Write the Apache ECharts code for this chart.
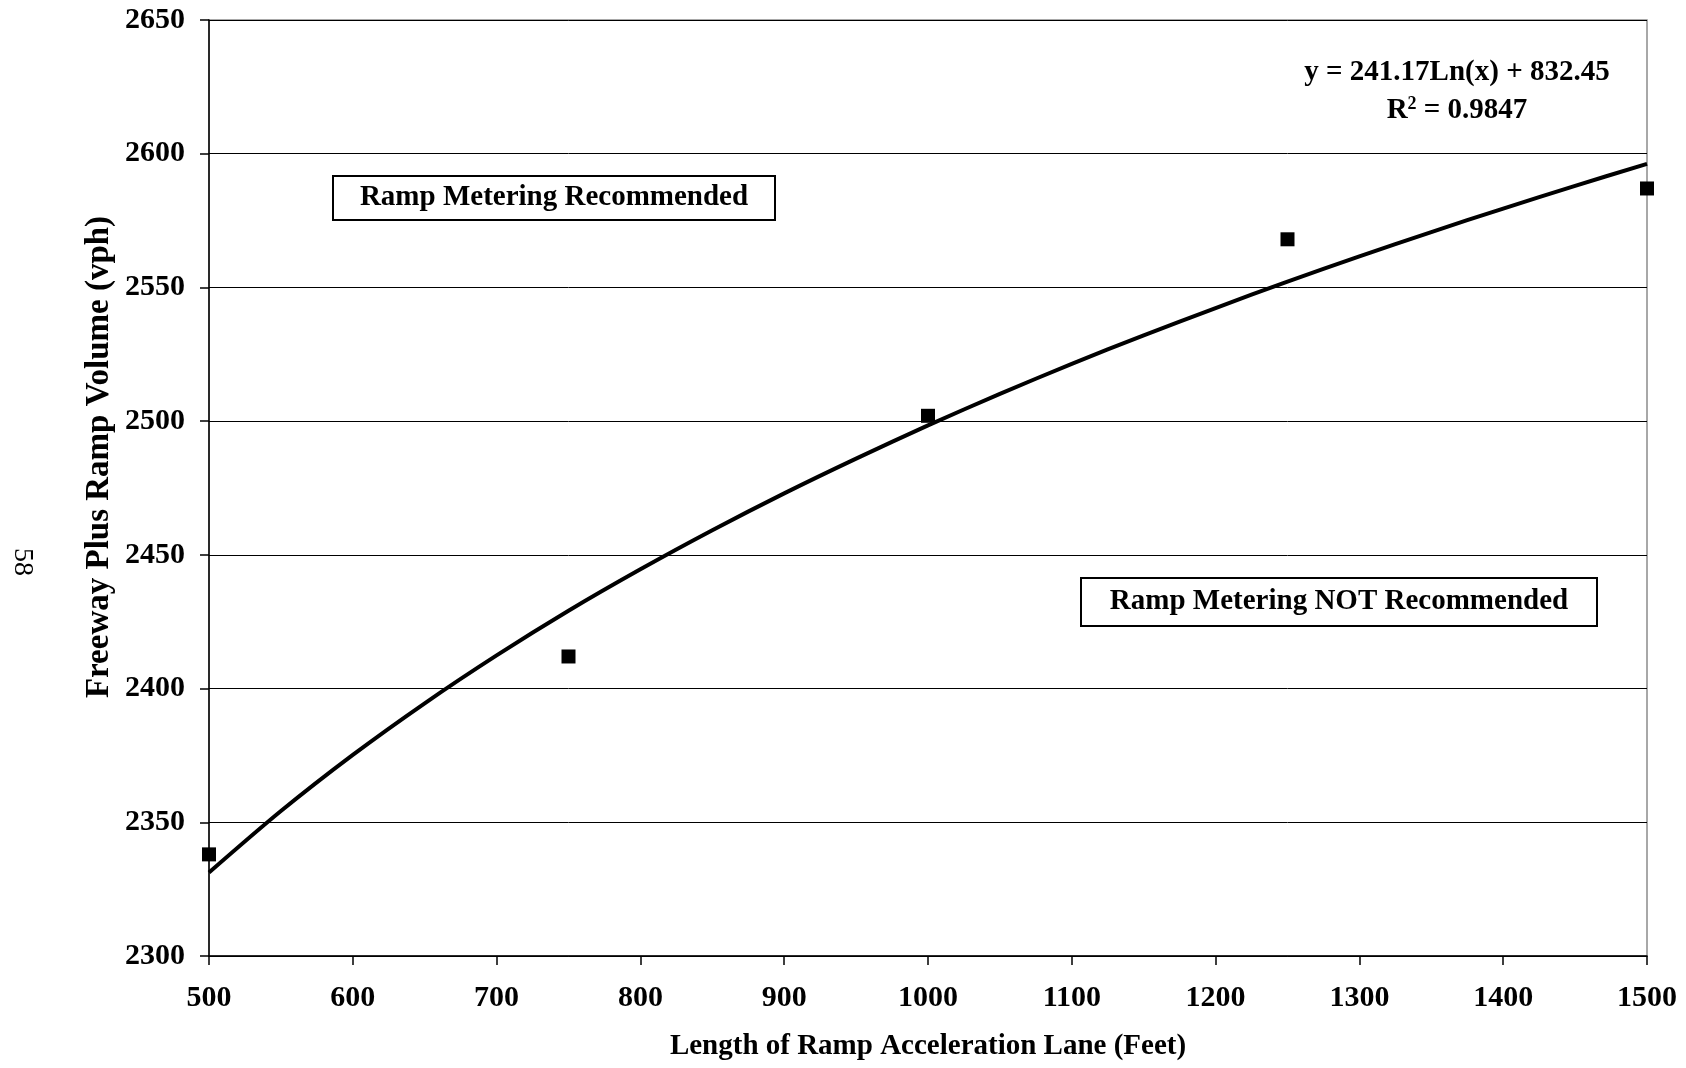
<!DOCTYPE html>
<html>
  <head>
    <meta charset="utf-8">
    <title>Ramp metering chart</title>
    <script src="https://cdn.jsdelivr.net/npm/echarts@6/dist/echarts.min.js"></script>
    <style media="screen">
    html, body{
      margin: 0;
      padding: 0;
      background: #fff;
    }
    #chart{
      height: 1068px;
      width: 1686px;
    }
    </style>
  </head>
  <body>
    <div id="chart"></div>

    <script type="text/javascript">
      // observed points (lane length in feet, volume in vph)
      var laneLength = [500, 750, 1000, 1250, 1500];
      var volume = [2338, 2412, 2502, 2568, 2587];

      // log trendline, every 50 ft
      var trendX = [500, 550, 600, 650, 700, 750, 800, 850, 900, 950, 1000,
                    1050, 1100, 1150, 1200, 1250, 1300, 1350, 1400, 1450, 1500];
      var trendY = [2331.2, 2354.2, 2375.2, 2394.5, 2412.4, 2429.1, 2444.6, 2459.2, 2473.0, 2486.0, 2498.4,
                    2510.2, 2521.4, 2532.1, 2542.3, 2552.2, 2561.6, 2570.7, 2579.5, 2588.0, 2596.2];

      var xTicks = {min: 500, max: 1500, step: 100};
      var yTicks = {min: 2300, max: 2650, step: 50};

      var font = '"Liberation Serif", "Times New Roman", serif';

      var points = laneLength.map(function (x, i) { return [x, volume[i]]; });
      var trend = trendX.map(function (x, i) { return [x, trendY[i]]; });

      var chart = echarts.init(document.getElementById('chart'));

      var plain = function (v) { return String(v); };

      var option = {
          backgroundColor: '#fff',
          animation: false,
          grid: {
            left: 209,
            right: 39,
            top: 20,
            bottom: 112,
            show: true,
            borderColor: '#8c8c8c',
            borderWidth: 1.5
          },
          xAxis: {
            type: 'value',
            min: xTicks.min,
            max: xTicks.max,
            interval: xTicks.step,
            name: 'Length of Ramp Acceleration Lane (Feet)',
            nameLocation: 'middle',
            nameGap: 76,
            nameTextStyle: {fontFamily: font, fontWeight: 'bold', fontSize: 29, color: '#000'},
            axisLine: {lineStyle: {color: '#000', width: 1.5}},
            axisTick: {show: true, length: 9, lineStyle: {color: '#000', width: 1.5}},
            axisLabel: {margin: 27, formatter: plain, fontFamily: font, fontWeight: 'bold', fontSize: 30, color: '#000'},
            splitLine: {show: false}
          },
          yAxis: {
            type: 'value',
            min: yTicks.min,
            max: yTicks.max,
            interval: yTicks.step,
            axisLine: {show: true, lineStyle: {color: '#000', width: 1.5}},
            axisTick: {show: true, length: 9, lineStyle: {color: '#000', width: 1.5}},
            axisLabel: {margin: 24, formatter: plain, fontFamily: font, fontWeight: 'bold', fontSize: 30, color: '#000'},
            splitLine: {show: true, lineStyle: {color: '#000', width: 1}}
          },
          series: [
            {
              type: 'scatter',
              data: points,
              symbol: 'rect',
              symbolSize: 14,
              itemStyle: {color: '#000', opacity: 1},
              z: 3
            },
            {
              type: 'line',
              data: trend,
              smooth: 0.3,
              showSymbol: false,
              lineStyle: {color: '#000', width: 4},
              z: 4
            }
          ],
          graphic: [
            {
              type: 'text',
              x: 99, y: 457,
              rotation: Math.PI / 2,
              style: {
                text: 'Freeway Plus Ramp Volume (vph)',
                font: 'bold 33px ' + font,
                fill: '#000',
                align: 'center',
                verticalAlign: 'middle'
              }
            },
            {
              type: 'text',
              x: 22, y: 562,
              rotation: -Math.PI / 2,
              style: {
                text: '58',
                font: '28px ' + font,
                fill: '#000',
                align: 'center',
                verticalAlign: 'middle'
              }
            },
            {
              type: 'text',
              x: 1457, y: 73,
              style: {
                text: 'y = 241.17Ln(x) + 832.45',
                font: 'bold 29px ' + font,
                fill: '#000',
                align: 'center',
                verticalAlign: 'middle'
              }
            },
            {
              type: 'text',
              x: 1457, y: 110,
              style: {
                text: '{b|R}{s|2}{b| = 0.9847}',
                align: 'center',
                verticalAlign: 'middle',
                rich: {
                  b: {font: 'bold 29px ' + font, fill: '#000', verticalAlign: 'bottom'},
                  s: {font: 'bold 18px ' + font, fill: '#000', verticalAlign: 'top', padding: [0, 0, 12, 0]}
                }
              }
            },
            {
              type: 'group',
              children: [
                {
                  type: 'rect',
                  shape: {x: 333, y: 176, width: 442, height: 44},
                  style: {fill: '#fff', stroke: '#000', lineWidth: 2}
                },
                {
                  type: 'text',
                  x: 554, y: 198,
                  style: {
                    text: 'Ramp Metering Recommended',
                    font: 'bold 29px ' + font,
                    fill: '#000',
                    align: 'center',
                    verticalAlign: 'middle'
                  }
                }
              ]
            },
            {
              type: 'group',
              children: [
                {
                  type: 'rect',
                  shape: {x: 1081, y: 578, width: 516, height: 48},
                  style: {fill: '#fff', stroke: '#000', lineWidth: 2}
                },
                {
                  type: 'text',
                  x: 1339, y: 602,
                  style: {
                    text: 'Ramp Metering NOT Recommended',
                    font: 'bold 29px ' + font,
                    fill: '#000',
                    align: 'center',
                    verticalAlign: 'middle'
                  }
                }
              ]
            }
          ]
      };
      chart.setOption(option);
    </script>

  </body>
</html>
